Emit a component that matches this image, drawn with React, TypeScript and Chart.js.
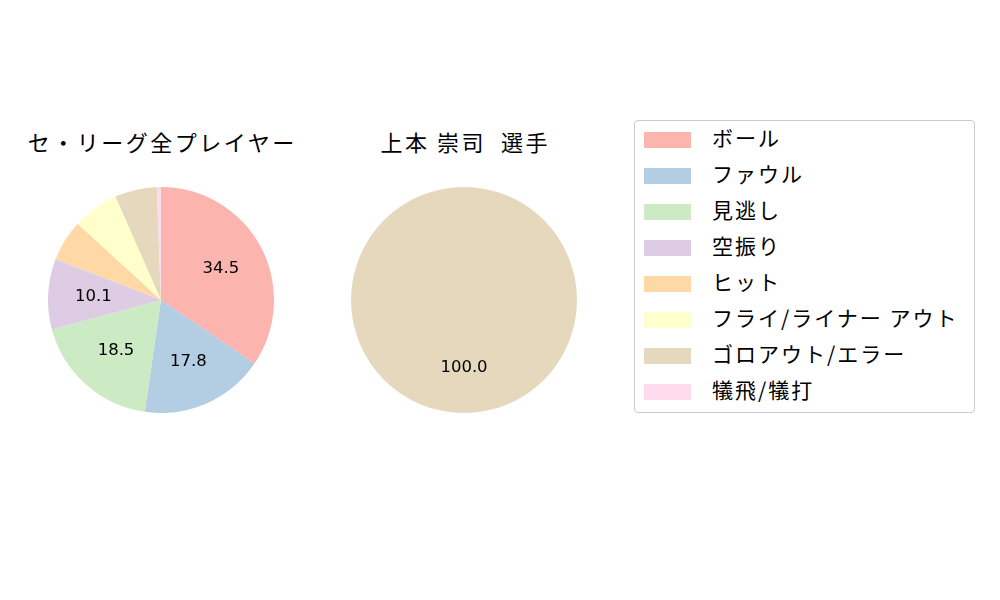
import React, { useEffect, useRef } from 'react';
import { Chart, registerables } from 'chart.js';

Chart.register(...registerables);

const categories = ['ボール', 'ファウル', '見逃し', '空振り', 'ヒット', 'フライ/ライナー アウト', 'ゴロアウト/エラー', '犠飛/犠打'];
const leagueValues = [34.5, 17.8, 18.5, 10.1, 5.9, 6.6, 6.0, 0.6];
const playerValues = [0, 0, 0, 0, 0, 0, 100.0, 0];
const colors = ['#fbb4ae', '#b3cde3', '#ccebc5', '#decbe4', '#fed9a6', '#ffffcc', '#e5d8bd', '#fddaec'];

const leagueTitle = 'セ・リーグ全プレイヤー';
const playerTitle = '上本 崇司  選手';

const FONT = "'DejaVu Sans', 'Noto Sans CJK JP', sans-serif";
const JP_FONT = "'Noto Sans CJK JP', 'DejaVu Sans', sans-serif";

// draws the percentage inside each slice at 0.6 of the radius, like matplotlib autopct
const sliceLabels = {
  id: 'sliceLabels',
  afterDatasetsDraw: (chart: Chart) => {
    const ctx = chart.ctx;
    const meta = chart.getDatasetMeta(0);
    const values = chart.data.datasets[0].data as number[];
    ctx.save();
    ctx.font = `16.5px ${FONT}`;
    ctx.fillStyle = '#000';
    ctx.textAlign = 'center';
    ctx.textBaseline = 'middle';
    meta.data.forEach((arc: any, i) => {
      const v = values[i];
      if (v < 10) return;
      const mid = (arc.startAngle + arc.endAngle) / 2;
      const r = arc.outerRadius * 0.6;
      ctx.fillText(v.toFixed(1), arc.x + Math.cos(mid) * r, arc.y + Math.sin(mid) * r);
    });
    ctx.restore();
  },
};

const PieChart: React.FC<{ values: number[]; title: string; left: number }> = ({ values, title, left }) => {
  const canvasRef = useRef<HTMLCanvasElement>(null);

  useEffect(() => {
    if (!canvasRef.current) return;
    const chart = new Chart(canvasRef.current, {
      type: 'pie',
      data: {
        labels: categories,
        datasets: [
          {
            data: values,
            backgroundColor: colors,
            borderWidth: 0,
            hoverOffset: 0,
          },
        ],
      },
      options: {
        responsive: false,
        animation: false,
        layout: { padding: 0 },
        plugins: {
          legend: { display: false },
          tooltip: { enabled: false },
        },
      },
      plugins: [sliceLabels],
    });
    return () => chart.destroy();
  }, [values, title]);

  return (
    <>
      <div
        style={{
          position: 'absolute',
          left: left - 100,
          top: 124,
          width: 426,
          textAlign: 'center',
          fontFamily: JP_FONT,
          fontSize: 22,
          lineHeight: '34px',
          letterSpacing: '2.5px',
          paddingLeft: 2.5,
          boxSizing: 'border-box',
          whiteSpace: 'pre',
          color: '#000',
        }}
      >
        {title}
      </div>
      <div style={{ position: 'absolute', left, top: 187, width: 226, height: 226 }}>
        <canvas ref={canvasRef} width={226} height={226} style={{ width: 226, height: 226 }} />
      </div>
    </>
  );
};

const App: React.FC = () => {
  useEffect(() => {
    document.body.style.margin = '0';
  }, []);

  return (
    <div style={{ position: 'relative', width: 1000, height: 600, background: '#fff', overflow: 'hidden' }}>
      <PieChart values={leagueValues} title={leagueTitle} left={48} />
      <PieChart values={playerValues} title={playerTitle} left={351} />
      <div
        style={{
          position: 'absolute',
          left: 634,
          top: 120,
          width: 339,
          height: 291,
          border: '1px solid #cccccc',
          borderRadius: 4,
          boxSizing: 'content-box',
        }}
      >
        {categories.map((c, i) => (
          <div key={c} style={{ position: 'absolute', left: 0, top: -2 + i * 36, height: 36, width: 339 }}>
            <div
              style={{
                position: 'absolute',
                left: 9,
                top: 13,
                width: 47,
                height: 16,
                background: colors[i],
              }}
            />
            <div
              style={{
                position: 'absolute',
                left: 77,
                top: 0,
                height: 36,
                lineHeight: '36px',
                fontFamily: JP_FONT,
                fontSize: 21,
                letterSpacing: '2px',
                color: '#000',
                whiteSpace: 'nowrap',
              }}
            >
              {c}
            </div>
          </div>
        ))}
      </div>
    </div>
  );
};

export default App;
